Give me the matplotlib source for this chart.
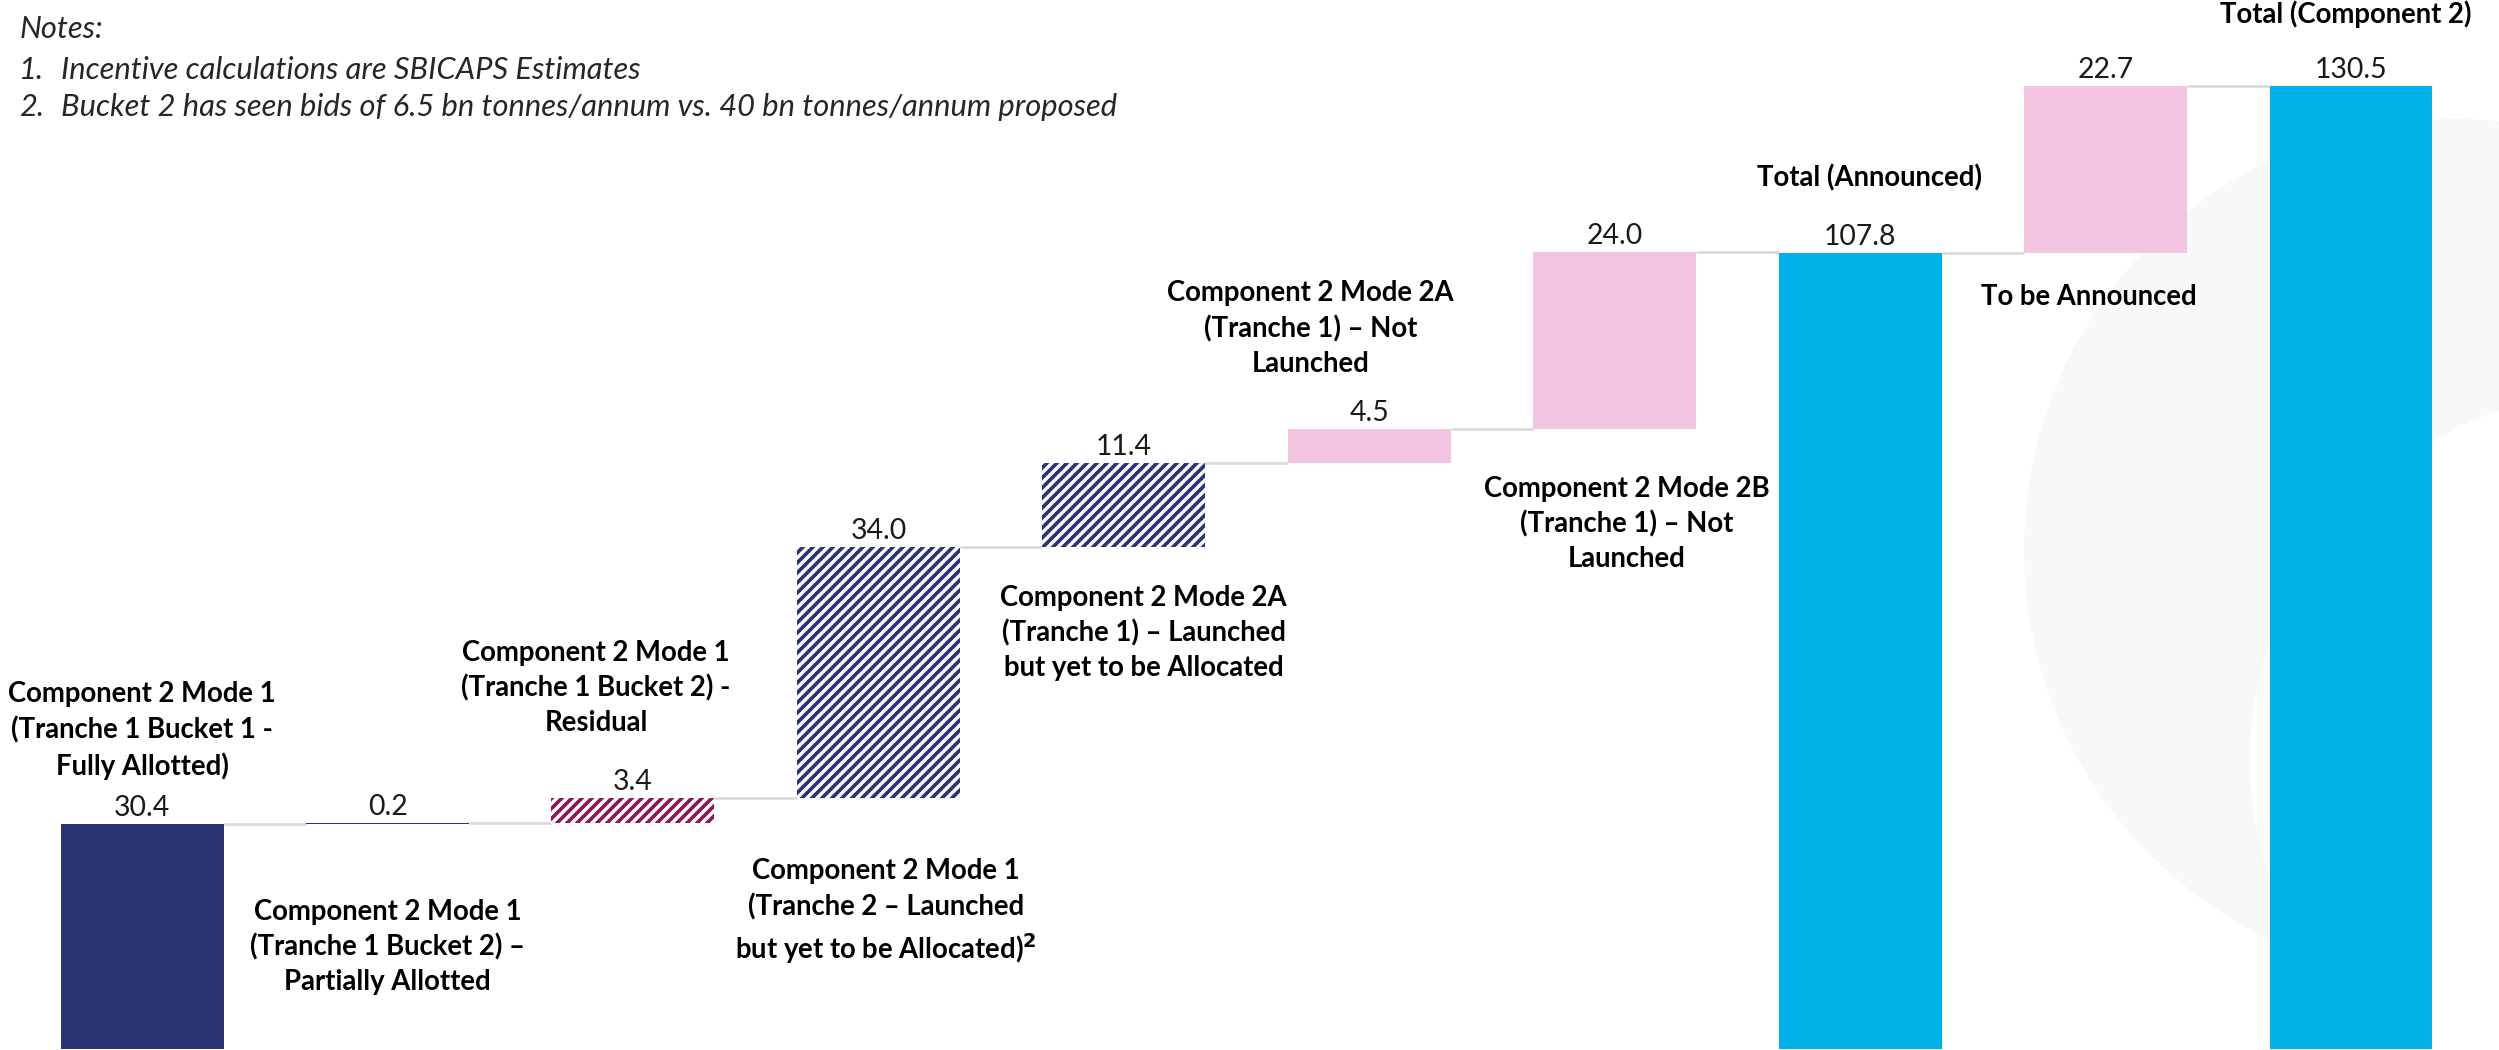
import matplotlib
matplotlib.use("Agg")
import matplotlib.pyplot as plt
from matplotlib.patches import Circle

plt.rcParams['font.family'] = ['Lato', 'DejaVu Sans']
plt.rcParams['hatch.linewidth'] = 2.2

# Step values of the waterfall (bn)
steps = [30.4, 0.2, 3.4, 34.0, 11.4, 4.5, 24.0, 107.8, 22.7, 130.5]
is_total = [False, False, False, False, False, False, False, True, False, True]

labels = [
    "Component 2 Mode 1\n(Tranche 1 Bucket 1 -\nFully Allotted)",
    "Component 2 Mode 1\n(Tranche 1 Bucket 2) \u2013\nPartially Allotted",
    "Component 2 Mode 1\n(Tranche 1 Bucket 2) -\nResidual",
    "Component 2 Mode 1\n(Tranche 2 \u2013 Launched\nbut yet to be Allocated)$^{\\mathbf{2}}$",
    "Component 2 Mode 2A\n(Tranche 1) \u2013 Launched\nbut yet to be Allocated",
    "Component 2 Mode 2A\n(Tranche 1) \u2013 Not\nLaunched",
    "Component 2 Mode 2B\n(Tranche 1) \u2013 Not\nLaunched",
    "Total (Announced)",
    "To be Announced",
    "Total (Component 2)",
]
# where each label block sits (x in bar units, y in value units)
label_x = [0.0, 1.0, 1.85, 3.03, 4.08, 4.76, 6.05, 7.04, 7.93, 8.98]
label_y = [43.1, 13.75, 48.9, 18.5, 56.3, 97.6, 71.1, 118.0, 101.8, 140.2]

notes = [
    "Notes:",
    "1.",
    "2.",
]
note_texts = [
    "",
    "Incentive calculations are SBICAPS Estimates",
    "Bucket 2 has seen bids of 6.5 bn tonnes/annum vs. 40 bn tonnes/annum proposed",
]

navy = "#2B3474"
pink = "#F2C4E1"
cyan = "#00B1EA"
plum = "#8B1A5B"
styles = [
    dict(color=navy),
    dict(color=navy),
    dict(facecolor="white", edgecolor=plum, hatch="////", linewidth=0),
    dict(facecolor="white", edgecolor=navy, hatch="////", linewidth=0),
    dict(facecolor="white", edgecolor=navy, hatch="////", linewidth=0),
    dict(color=pink),
    dict(color=pink),
    dict(color=cyan),
    dict(color=pink),
    dict(color=cyan),
]

fig = plt.figure(figsize=(2499 / 120, 1050 / 120), dpi=120)
ax = fig.add_axes([0, 0, 1, 1])
ax.set_xlim(-0.579, 9.603)
ax.set_ylim(-0.2, 142.1)
ax.axis("off")

# faint logo watermark in the background
ax.add_patch(Circle((2455, 1050 - 550), 431, transform=None, facecolor="#F8F8F8",
                    edgecolor="none", zorder=0))
ax.add_patch(Circle((2620, 1050 - 760), 370, transform=None, facecolor="white",
                    edgecolor="none", zorder=0))

width = 0.664
running = 0.0
tops = []
for i, v in enumerate(steps):
    if is_total[i]:
        bottom = 0.0
        running = v
    else:
        bottom = running
        running = running + v
    ax.bar(i, v, bottom=bottom, width=width, zorder=2, **styles[i])
    tops.append(bottom + v)
    ax.annotate(f"{v:.1f}", (i, bottom + v), xytext=(0, 8), textcoords="offset pixels",
                ha="center", va="baseline", fontsize=17, color="#1a1a1a", zorder=3)

# connector lines between neighbouring bars
for i in range(len(steps) - 1):
    level = tops[i]
    ax.plot([i + width / 2, i + 1 - width / 2], [level, level], color="#D9D9D9",
            lw=1.6, solid_capstyle="butt", zorder=1)

for i, txt in enumerate(labels):
    ax.text(label_x[i], label_y[i], txt, ha="center", va="center", fontsize=16.5,
            fontweight="bold", linespacing=1.4, color="black", zorder=3, multialignment="center")

note_y = [1050 - 29, 1050 - 70, 1050 - 107]
for i in range(3):
    fig.text(19 / 2499, note_y[i] / 1050, notes[i], ha="left", va="center",
             fontsize=18.5, style="italic", color="#262626")
    if note_texts[i]:
        fig.text(61 / 2499, note_y[i] / 1050, note_texts[i], ha="left", va="center",
                 fontsize=18.5, style="italic", color="#262626")

fig.savefig("out.png", dpi=120)
